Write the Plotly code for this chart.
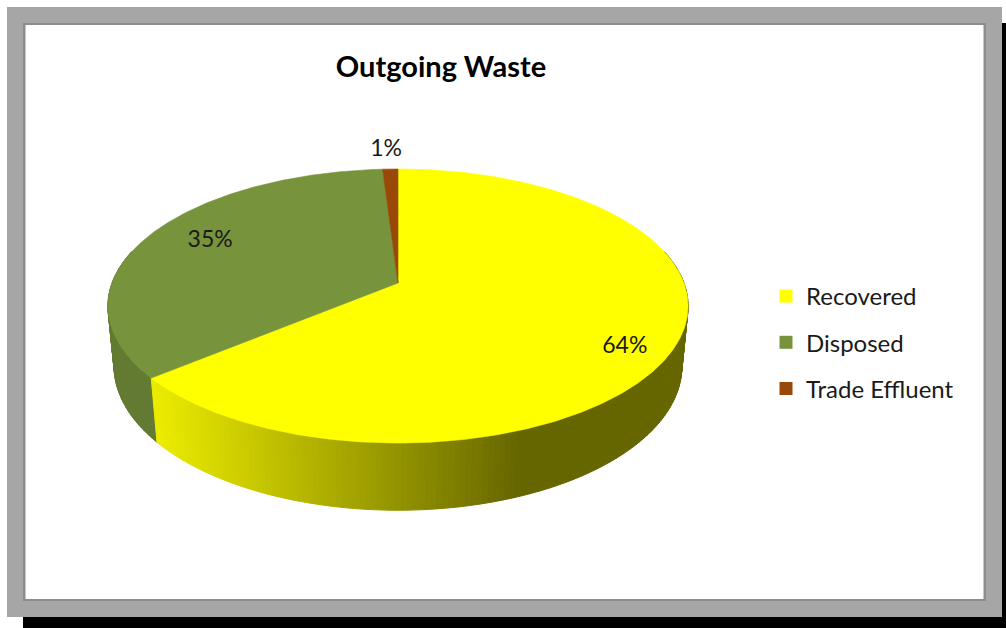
import numpy as np
import plotly.graph_objects as go

# ---- data ----
categories = ["Recovered", "Disposed", "Trade Effluent"]
shares = [64, 35, 1]
title_text = "Outgoing Waste"

# ---- styling ----
top_colors = ["#FFFF00", "#77933C", "#984807"]
side_shade = [(0.92, 0.40), (0.83, 0.83), (0.70, 0.70)]  # brightness left -> right
label_radius = [0.86, 0.77, 1.20]
label_turn_deg = [6.3, 2.3, -0.6]
FONT = "Lato"
W, H = 1006, 628

# ---- 3-D pie geometry (perspective view of a tilted disc) ----
ELEV = np.radians(27.75)
CAM_DIST = 5.27
FOCAL = 1507.0
THICK = 0.24
CX, CY = 398.0, 283.0


def project(theta, r, z):
    theta = np.asarray(theta, dtype=float)
    u = r * np.sin(theta)
    v = r * np.cos(theta)
    d = CAM_DIST + v * np.cos(ELEV) - z * np.sin(ELEV)
    s = v * np.sin(ELEV) + z * np.cos(ELEV)
    return CX + FOCAL * u / d, CY - FOCAL * s / d


def shade_hex(hex_color, f):
    h = hex_color.lstrip("#")
    rgb = [int(h[i:i + 2], 16) for i in (0, 2, 4)]
    return "rgb({},{},{})".format(*[int(round(c * f)) for c in rgb])


total = float(sum(shares))
bounds = np.concatenate([[0.0], np.cumsum(shares) / total * 2 * np.pi])

fig = go.Figure()

# side wall strips, drawn back to front
strips = []
step = np.radians(1.0)
for i, (a0, a1) in enumerate(zip(bounds[:-1], bounds[1:])):
    n = max(1, int(np.ceil((a1 - a0) / step)))
    edges = np.linspace(a0, a1, n + 1)
    for s0, s1 in zip(edges[:-1], edges[1:]):
        mid = 0.5 * (s0 + s1)
        if np.cos(mid) > 0.25:
            continue
        strips.append((np.cos(mid), i, s0, s1))
strips.sort(key=lambda t: -t[0])

for _, i, s0, s1 in strips:
    arc = np.linspace(s0, s1, 4)
    xt, yt = project(arc, 1.0, 0.0)
    xb, yb = project(arc[::-1], 1.0, -THICK)
    xs = np.concatenate([xt, xb, xt[:1]])
    ys = np.concatenate([yt, yb, yt[:1]])
    xm = float(np.mean(xt))
    lo, hi = side_shade[i]
    f = float(np.interp(xm, [158, 520], [lo, hi]))
    col = shade_hex(top_colors[i], f)
    fig.add_trace(go.Scatter(
        x=xs, y=ys, mode="lines", fill="toself", fillcolor=col,
        line=dict(color=col, width=1), hoverinfo="skip", showlegend=False,
    ))

# top faces
for i, (a0, a1) in enumerate(zip(bounds[:-1], bounds[1:])):
    arc = np.linspace(a0, a1, max(8, int((a1 - a0) / np.radians(0.5))))
    xa, ya = project(arc, 1.0, 0.0)
    xc, yc = project(0.0, 0.0, 0.0)
    xs = np.concatenate([[xc], xa, [xc]])
    ys = np.concatenate([[yc], ya, [yc]])
    fig.add_trace(go.Scatter(
        x=xs, y=ys, mode="lines", fill="toself", fillcolor=top_colors[i],
        line=dict(color=top_colors[i], width=0.6), hoverinfo="skip",
        showlegend=False,
    ))

# percentage labels
mids = 0.5 * (bounds[:-1] + bounds[1:])
lx, ly = [], []
for m, r, t in zip(mids, label_radius, label_turn_deg):
    x, y = project(m + np.radians(t), r, 0.0)
    lx.append(float(x))
    ly.append(float(y))
fig.add_trace(go.Scatter(
    x=lx, y=ly, mode="text", text=[f"{v:.0f}%" for v in shares],
    textfont=dict(family=FONT, size=23, color="#1a1a1a"),
    hoverinfo="skip", showlegend=False,
))

# legend entries
for i, name in enumerate(categories):
    fig.add_trace(go.Scatter(
        x=[None], y=[None], mode="markers", name=name,
        marker=dict(symbol="square", size=13, color=top_colors[i]),
        legendgroup=name,
    ))

# frame: drop shadow, grey mat, inner white panel
shapes = [
    dict(type="rect", xref="x", yref="y", x0=23, y0=23, x1=1006, y1=628,
         fillcolor="#000000", line=dict(width=0), layer="below"),
    dict(type="rect", xref="x", yref="y", x0=7, y0=7, x1=1002, y1=617,
         fillcolor="#A6A6A6", line=dict(width=0), layer="below"),
    dict(type="rect", xref="x", yref="y", x0=23, y0=23, x1=986, y1=601,
         fillcolor="#8C8C8C", line=dict(width=0), layer="below"),
    dict(type="rect", xref="x", yref="y", x0=25.5, y0=25, x1=983.5, y1=599,
         fillcolor="#FFFFFF", line=dict(width=0), layer="below"),
]

fig.update_layout(
    width=W, height=H, autosize=False,
    margin=dict(l=0, r=0, t=0, b=0),
    paper_bgcolor="#FFFFFF", plot_bgcolor="rgba(0,0,0,0)",
    xaxis=dict(range=[0, W], visible=False, fixedrange=True),
    yaxis=dict(range=[H, 0], visible=False, fixedrange=True),
    shapes=shapes,
    title=dict(text=f"<b>{title_text}</b>", x=441 / W, xanchor="center",
               y=1 - 67 / H, yanchor="middle",
               font=dict(family=FONT, size=29, color="#000000")),
    legend=dict(x=766 / W, xanchor="left", y=1 - 274 / H, yanchor="top",
                font=dict(family=FONT, size=24, color="#1a1a1a"),
                bgcolor="rgba(0,0,0,0)", borderwidth=0,
                tracegroupgap=12, itemclick=False, itemdoubleclick=False),
    showlegend=True,
)

fig.write_html("out.html")
